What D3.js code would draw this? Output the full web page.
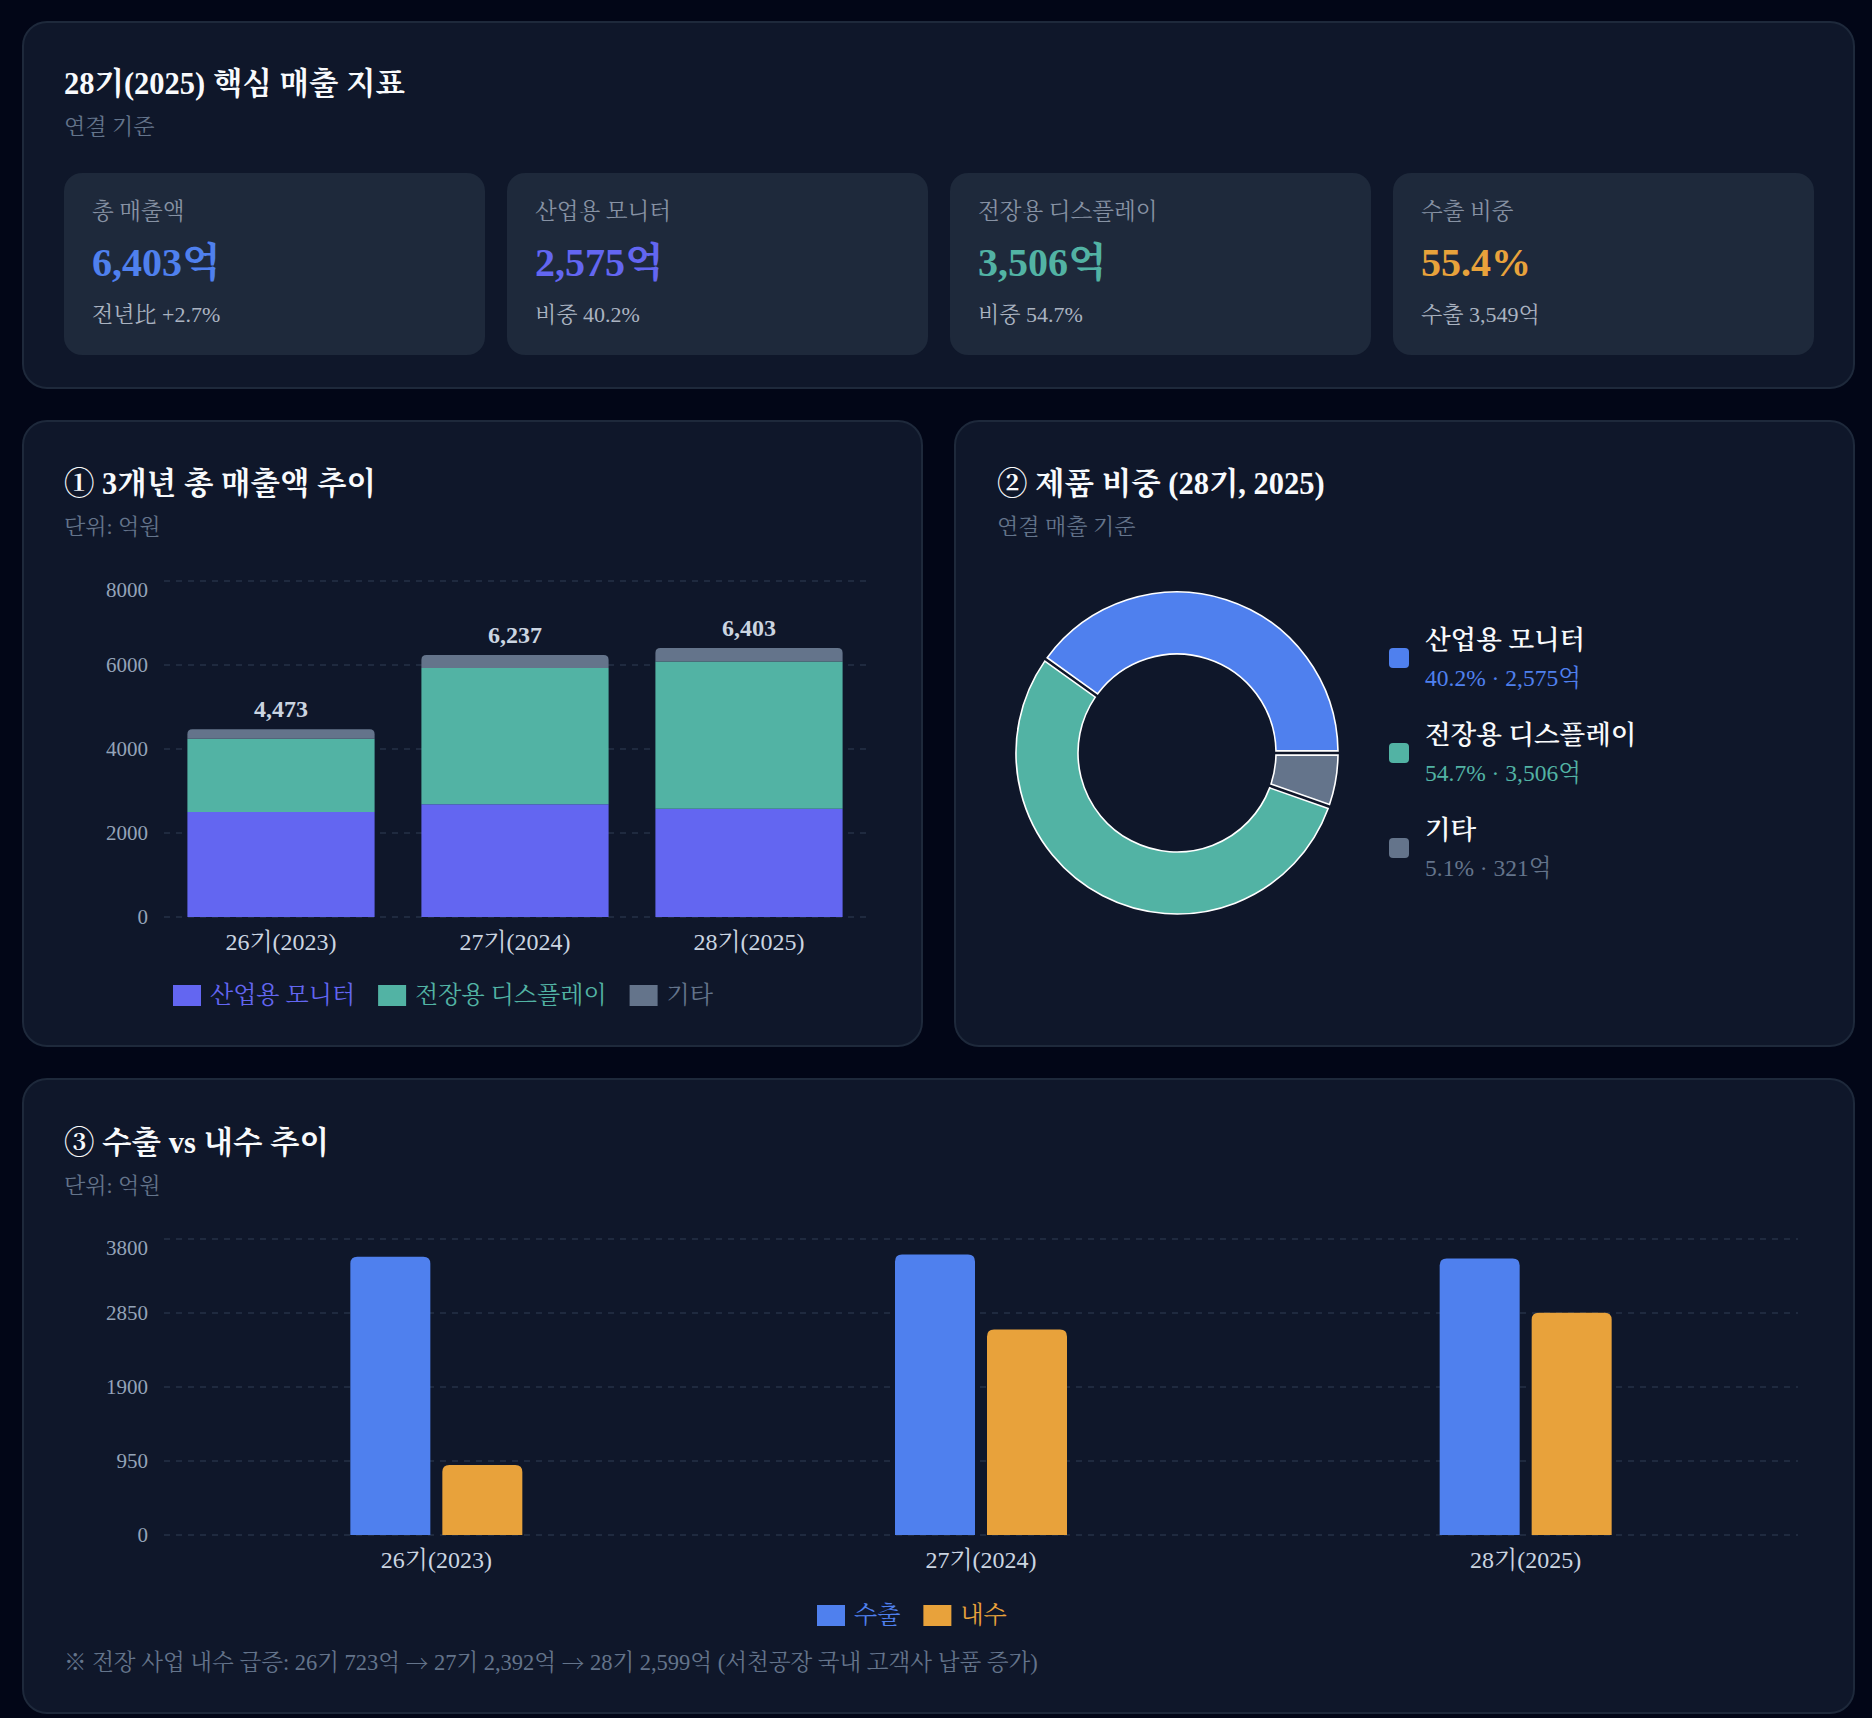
<!DOCTYPE html>
<html lang="ko">
<head>
<meta charset="utf-8">
<title>28기(2025) 핵심 매출 지표</title>
<script src="https://cdn.jsdelivr.net/npm/d3@7"></script>
<style>
  html, body { margin: 0; padding: 0; background: #020617; }
  svg { display: block; }
  text { font-family: "Liberation Serif", "Noto Serif CJK KR", serif; }
  .cjk { font-family: "Noto Serif CJK KR", serif; }
</style>
</head>
<body>
<svg id="dash"></svg>
<script>
// ---- data (억원) ----
const periods = ['26기(2023)', '27기(2024)', '28기(2025)'];
const monitorSales = [2500, 2686, 2575];
const displaySales = [1743, 3241, 3506];
const otherSales = [230, 310, 321];
const totalSales = [4473, 6237, 6403];
const salesTicks = [0, 2000, 4000, 6000, 8000];

const mixLabels = ['산업용 모니터', '전장용 디스플레이', '기타'];
const mixShares = [40.2, 54.7, 5.1];
const mixAmounts = [2575, 3506, 321];

const exportSales = [3573, 3600, 3549];
const domesticSales = [900, 2637, 2854];
const tradeTicks = [0, 950, 1900, 2850, 3800];

const kpiLabels = ['총 매출액', '산업용 모니터', '전장용 디스플레이', '수출 비중'];
const kpiValues = ['6,403억', '2,575억', '3,506억', '55.4%'];
const kpiNotes = ['전년比 +2.7%', '비중 40.2%', '비중 54.7%', '수출 3,549억'];

const footSteps = ['※ 전장 사업 내수 급증: 26기 723억 ', ' 27기 2,392억 ', ' 28기 2,599억 (서천공장 국내 고객사 납품 증가)'];

// ---- look ----
const W = 1872, H = 1718;
const C = {
  page: '#020617', card: '#0f172a', border: '#1e293b', tile: '#1e293b',
  title: '#f8fafc', muted: '#64748b', tick: '#94a3b8', label: '#cbd5e1',
  grid: '#263247',
  indigo: '#6366f1', teal: '#52b3a4', slate: '#64748b', blue: '#4f80ee', orange: '#e8a23b'
};
const kpiColors = [C.blue, C.indigo, C.teal, C.orange];
const mixColors = [C.blue, C.teal, C.slate];
const fmt = d3.format(',');

const svg = d3.select('#dash').attr('width', W).attr('height', H);
svg.append('rect').attr('width', W).attr('height', H).attr('fill', C.page);

function card(x, y, w, h) {
  svg.append('rect').attr('x', x).attr('y', y).attr('width', w).attr('height', h)
    .attr('rx', 24).attr('fill', C.card).attr('stroke', C.border).attr('stroke-width', 2);
}

function label(g, x, y, str, size, color, weight, anchor) {
  return g.append('text').attr('x', x).attr('y', y)
    .attr('dominant-baseline', 'central')
    .attr('text-anchor', anchor || 'start')
    .attr('font-size', size).attr('font-weight', weight || 'normal')
    .attr('fill', color).text(str);
}

function heading(x, y, title, sub) {
  label(svg, x, y, title, 30.5, C.title, 'bold');
  label(svg, x, y + 42, sub, 22, C.muted);
}

function topRounded(x, y, w, h, r) {
  r = Math.max(0, Math.min(r, h, w / 2));
  return `M${x},${y + h}V${y + r}Q${x},${y} ${x + r},${y}H${x + w - r}Q${x + w},${y} ${x + w},${y + r}V${y + h}Z`;
}

function legend(x, y, names, colors) {
  const g = svg.append('g');
  let cx = x;
  names.forEach((n, i) => {
    g.append('rect').attr('x', cx).attr('y', y - 10).attr('width', 28).attr('height', 21).attr('fill', colors[i]);
    const t = label(g, cx + 37, y, n, 24, colors[i]);
    cx += 37 + t.node().getComputedTextLength() + 23;
  });
}

// y axis without domain; top label nudged down to stay inside the plot, like the original
function valueAxis(g, y, ticks, x) {
  const ax = g.append('g').attr('transform', `translate(${x},0)`)
    .call(d3.axisLeft(y).tickValues(ticks).tickSize(0).tickPadding(16).tickFormat(d3.format('d')));
  ax.select('.domain').remove();
  ax.selectAll('text').attr('fill', C.tick).attr('font-size', 21).style('font-family', null)
    .attr('dy', d => d === d3.max(ticks) ? '0.75em' : '0.32em');
}

// ---- KPI strip ----
card(23, 22, 1831, 366);
heading(64, 84, '28기(2025) 핵심 매출 지표', '연결 기준');
const tileW = 421, tileGap = 22;
kpiLabels.forEach((k, i) => {
  const x = 64 + i * (tileW + tileGap);
  svg.append('rect').attr('x', x).attr('y', 173).attr('width', tileW).attr('height', 182)
    .attr('rx', 18).attr('fill', C.tile);
  label(svg, x + 28, 211, k, 22.5, '#8792a4');
  label(svg, x + 28, 262, kpiValues[i], 40, kpiColors[i], 'bold');
  label(svg, x + 28, 314, kpiNotes[i], 22, '#aab3c1');
});

// ---- ① stacked sales ----
card(23, 421, 899, 625);
heading(64, 484, '① 3개년 총 매출액 추이', '단위: 억원');
{
  const rows = periods.map((p, i) => ({ period: p, monitor: monitorSales[i], display: displaySales[i], other: otherSales[i] }));
  const keys = ['monitor', 'display', 'other'];
  const colors = { monitor: C.indigo, display: C.teal, other: C.slate };
  const x = d3.scaleBand().domain(periods).range([164, 866]).paddingInner(0.2).paddingOuter(0.1);
  const y = d3.scaleLinear().domain([0, 8000]).range([917, 581]);
  const g = svg.append('g');

  g.selectAll('.grid').data(salesTicks).enter().append('line')
    .attr('x1', 164).attr('x2', 866).attr('y1', d => y(d)).attr('y2', d => y(d))
    .attr('stroke', C.grid).attr('stroke-width', 1.5).attr('stroke-dasharray', '6,6');

  valueAxis(g, y, salesTicks, 164);

  const stacked = d3.stack().keys(keys)(rows);
  stacked.forEach(s => {
    const last = s.key === 'other';
    g.selectAll('.seg-' + s.key).data(s).enter().append('path')
      .attr('fill', colors[s.key])
      .attr('d', d => topRounded(x(d.data.period), y(d[1]), x.bandwidth(), y(d[0]) - y(d[1]), last ? 5 : 0));
  });

  g.selectAll('.total').data(periods).enter().append('text')
    .attr('x', d => x(d) + x.bandwidth() / 2).attr('y', (d, i) => y(totalSales[i]) - 20)
    .attr('text-anchor', 'middle').attr('dominant-baseline', 'central')
    .attr('font-size', 24).attr('font-weight', 'bold').attr('fill', C.label)
    .text((d, i) => fmt(totalSales[i]));

  const xAxis = g.append('g').attr('transform', 'translate(0,917)')
    .call(d3.axisBottom(x).tickSize(0).tickPadding(16));
  xAxis.select('.domain').remove();
  xAxis.selectAll('text').attr('fill', C.label).attr('font-size', 24).style('font-family', null);

  legend(173, 995, mixLabels, [C.indigo, C.teal, C.slate]);
}

// ---- ② product mix donut ----
card(955, 421, 899, 625);
heading(997, 484, '② 제품 비중 (28기, 2025)', '연결 매출 기준');
{
  const g = svg.append('g').attr('transform', 'translate(1177,753)');
  const pie = d3.pie().sort(null).startAngle(Math.PI / 2).endAngle(Math.PI / 2 - 2 * Math.PI).padAngle(0.022);
  const arc = d3.arc().innerRadius(99).outerRadius(161);
  g.selectAll('path').data(pie(mixShares)).enter().append('path')
    .attr('d', arc).attr('fill', (d, i) => mixColors[i])
    .attr('stroke', '#ffffff').attr('stroke-width', 1.6);

  const lg = svg.append('g');
  mixLabels.forEach((n, i) => {
    const cy = 658 + i * 95;
    lg.append('rect').attr('x', 1389).attr('y', cy - 10).attr('width', 20).attr('height', 20)
      .attr('rx', 4).attr('fill', mixColors[i]);
    label(lg, 1425, cy - 18, n, 26.5, C.title, 600);
    label(lg, 1425, cy + 20, `${mixShares[i]}% · ${fmt(mixAmounts[i])}억`, 23.5, mixColors[i]);
  });
}

// ---- ③ export vs domestic ----
card(23, 1079, 1831, 634);
heading(64, 1143, '③ 수출 vs 내수 추이', '단위: 억원');
{
  const series = ['수출', '내수'];
  const values = { '수출': exportSales, '내수': domesticSales };
  const colors = { '수출': C.blue, '내수': C.orange };
  const x0 = d3.scaleBand().domain(periods).range([164, 1798]);
  const x1 = d3.scaleBand().domain(series).range([0, 172]).paddingInner(12 / 92);
  const y = d3.scaleLinear().domain([0, 3800]).range([1535, 1239]);
  const g = svg.append('g');

  g.selectAll('.grid').data(tradeTicks).enter().append('line')
    .attr('x1', 164).attr('x2', 1798).attr('y1', d => y(d)).attr('y2', d => y(d))
    .attr('stroke', C.grid).attr('stroke-width', 1.5).attr('stroke-dasharray', '6,6');

  valueAxis(g, y, tradeTicks, 164);

  const groups = g.selectAll('.grp').data(periods).enter().append('g')
    .attr('transform', d => `translate(${x0(d) + x0.bandwidth() / 2 - 86},0)`);
  series.forEach(s => {
    groups.append('path').attr('fill', colors[s])
      .attr('d', (d, i) => topRounded(x1(s), y(values[s][i]), x1.bandwidth(), y(0) - y(values[s][i]), 7));
  });

  const xAxis = g.append('g').attr('transform', 'translate(0,1535)')
    .call(d3.axisBottom(x0).tickSize(0).tickPadding(16));
  xAxis.select('.domain').remove();
  xAxis.selectAll('text').attr('fill', C.label).attr('font-size', 24).style('font-family', null);

  legend(817, 1615, series, [C.blue, C.orange]);

  // footnote, arrows drawn with the CJK face like the original
  const note = label(svg, 64, 1662, '', 22.5, C.muted);
  footSteps.forEach((s, i) => {
    if (i > 0) note.append('tspan').attr('class', 'cjk').text('→');
    note.append('tspan').text(s);
  });
}
</script>
</body>
</html>
